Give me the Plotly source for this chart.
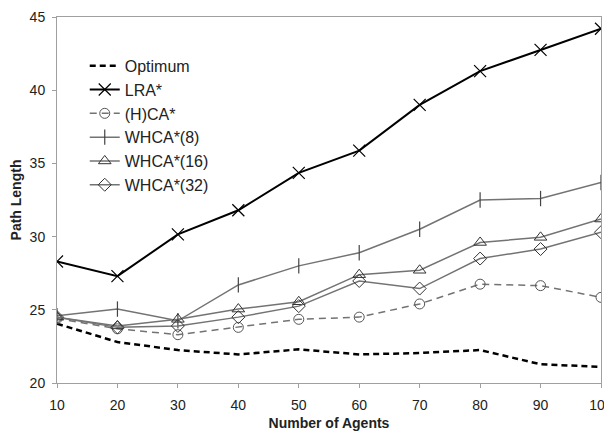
import plotly.graph_objects as go

agents = [10, 20, 30, 40, 50, 60, 70, 80, 90, 100]
optimum = [24.05, 22.8, 22.25, 21.95, 22.3, 21.95, 22.05, 22.25, 21.28, 21.1]
lra = [28.3, 27.3, 30.15, 31.8, 34.35, 35.87, 39.0, 41.3, 42.75, 44.2]
hca = [24.4, 23.7, 23.3, 23.8, 24.35, 24.5, 25.4, 26.75, 26.65, 25.85]
whca8 = [24.6, 25.05, 24.25, 26.7, 28.0, 28.9, 30.5, 32.5, 32.6, 33.7]
whca16 = [24.5, 23.9, 24.35, 25.05, 25.55, 27.4, 27.7, 29.6, 29.95, 31.2]
whca32 = [24.5, 23.8, 23.9, 24.5, 25.25, 26.97, 26.45, 28.5, 29.15, 30.3]

gray = "#737373"
fig = go.Figure()
fig.add_trace(go.Scatter(x=agents, y=optimum, name="Optimum", mode="lines",
                         line=dict(color="black", width=2.5, dash="6px,4px")))
fig.add_trace(go.Scatter(x=agents, y=lra, name="LRA*", mode="lines+markers",
                         line=dict(color="black", width=2),
                         marker=dict(symbol="x-thin-open", size=12, color="black",
                                     line=dict(color="black", width=1.2))))
fig.add_trace(go.Scatter(x=agents, y=hca, name="(H)CA*", mode="lines+markers",
                         line=dict(color=gray, width=1.5, dash="7px,5px"),
                         marker=dict(symbol="circle-open", size=10, color="#555555",
                                     line=dict(width=1))))
fig.add_trace(go.Scatter(x=agents, y=whca8, name="WHCA*(8)", mode="lines+markers",
                         line=dict(color=gray, width=1.5),
                         marker=dict(symbol="line-ns-open", size=11, color="#444444",
                                     line=dict(color="#444444", width=1.2))))
fig.add_trace(go.Scatter(x=agents, y=whca16, name="WHCA*(16)", mode="lines+markers",
                         line=dict(color=gray, width=1.5),
                         marker=dict(symbol="triangle-up-open", size=11, color="#333333",
                                     line=dict(width=1))))
fig.add_trace(go.Scatter(x=agents, y=whca32, name="WHCA*(32)", mode="lines+markers",
                         line=dict(color=gray, width=1.5),
                         marker=dict(symbol="diamond-open", size=10, color="#333333",
                                     line=dict(width=1))))

axis_common = dict(showline=True, linecolor="#a0a0a0", linewidth=1, mirror=True,
                   showgrid=False, zeroline=False, ticks="outside", ticklen=4,
                   tickcolor="#a0a0a0", tickfont=dict(size=14, color="#222222"),
                   automargin=False, ticklabeloverflow="allow")
fig.update_layout(
    width=604, height=425,
    margin=dict(l=49, r=11, t=9, b=50),
    paper_bgcolor="white", plot_bgcolor="white",
    font=dict(family="Liberation Sans, Arial, sans-serif", color="#222222"),
    xaxis=dict(range=[10, 100], tickvals=agents, **axis_common, ticklabelstandoff=5,
               title=dict(text="<b>Number of Agents</b>", font=dict(size=14), standoff=6)),
    yaxis=dict(range=[20, 45], tickvals=[20, 25, 30, 35, 40, 45], **axis_common,
               ticklabelstandoff=4,
               title=dict(text="<b>Path Length</b>", font=dict(size=14), standoff=4)),
    legend=dict(x=0.051, y=0.913, xanchor="left", yanchor="top",
                bgcolor="rgba(0,0,0,0)", font=dict(size=16, color="#222222"),
                itemwidth=30),
    showlegend=True,
)
fig.write_html("out.html")
